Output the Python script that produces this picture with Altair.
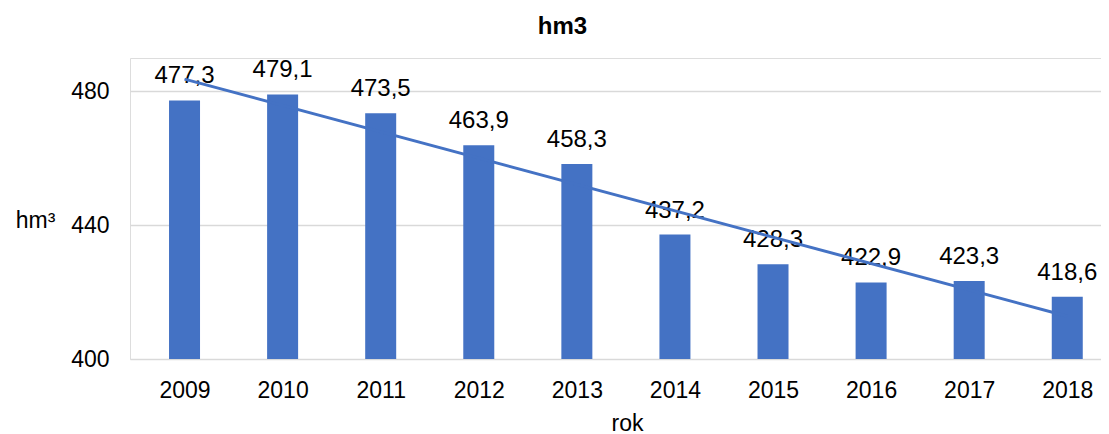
import altair as alt
import pandas as pd

years = [2009, 2010, 2011, 2012, 2013, 2014, 2015, 2016, 2017, 2018]
values = [477.3, 479.1, 473.5, 463.9, 458.3, 437.2, 428.3, 422.9, 423.3, 418.6]
labels = ["477,3", "479,1", "473,5", "463,9", "458,3", "437,2", "428,3", "422,9", "423,3", "418,6"]
y_ticks = [400, 440, 480]

df = pd.DataFrame({"rok": years, "hm3": values, "label": labels})

FONT = "Liberation Sans"
BLUE = "#4472C4"

x_axis = alt.Axis(values=years, format="d", title="rok", grid=False, ticks=False, tickSize=0,
                  domain=False, labelFontSize=23, labelFont=FONT, labelColor="black",
                  labelBaseline="alphabetic", labelPadding=38, labelFlush=False,
                  titleFontSize=23, titleFont=FONT, titleFontWeight="normal", titleColor="black",
                  titleBaseline="alphabetic", titleY=71, titleX=497, titleAnchor="middle")
y_axis = alt.Axis(values=y_ticks, title="hm³", grid=True, gridColor="#D9D9D9", gridWidth=1.3,
                  ticks=False, tickSize=0, domain=False, labelFontSize=23, labelFont=FONT,
                  labelColor="black", labelPadding=21,
                  titleFontSize=23, titleFont=FONT, titleFontWeight="normal", titleColor="black",
                  titleAngle=0, titleX=-95, titleY=169, titleAlign="center",
                  titleBaseline="alphabetic")

x_enc = alt.X("rok:Q", scale=alt.Scale(domain=[2008.495, 2018.293], nice=False, zero=False),
              axis=x_axis)
y_enc = alt.Y("hm3:Q", scale=alt.Scale(domain=[400, 490], nice=False, zero=False),
              axis=y_axis)

base = alt.Chart(df)

bars = base.mark_bar(color=BLUE, size=31).encode(x=x_enc, y=y_enc, y2=alt.datum(400))

text = base.mark_text(fontSize=24, font=FONT, color="black", dy=-17,
                      baseline="alphabetic", align="center").encode(
    x=x_enc, y=y_enc, text="label:N")

trend = base.transform_regression("rok", "hm3").mark_line(
    color=BLUE, strokeWidth=3).encode(x=x_enc, y=y_enc)

chart = alt.layer(bars, text, trend).properties(
    width=971,
    height=301,
    autosize=alt.AutoSizeParams(type="none"),
    padding={"left": 122, "top": 50, "right": 0, "bottom": 75},
    title=alt.Title("hm3", fontSize=24, font=FONT, fontWeight="bold", anchor="middle",
                    dx=-53, dy=25, offset=25, baseline="alphabetic", color="black"),
).configure_view(strokeWidth=0).configure(background="white")

chart.save("out.html", embed_options={"renderer": "svg", "actions": False})
